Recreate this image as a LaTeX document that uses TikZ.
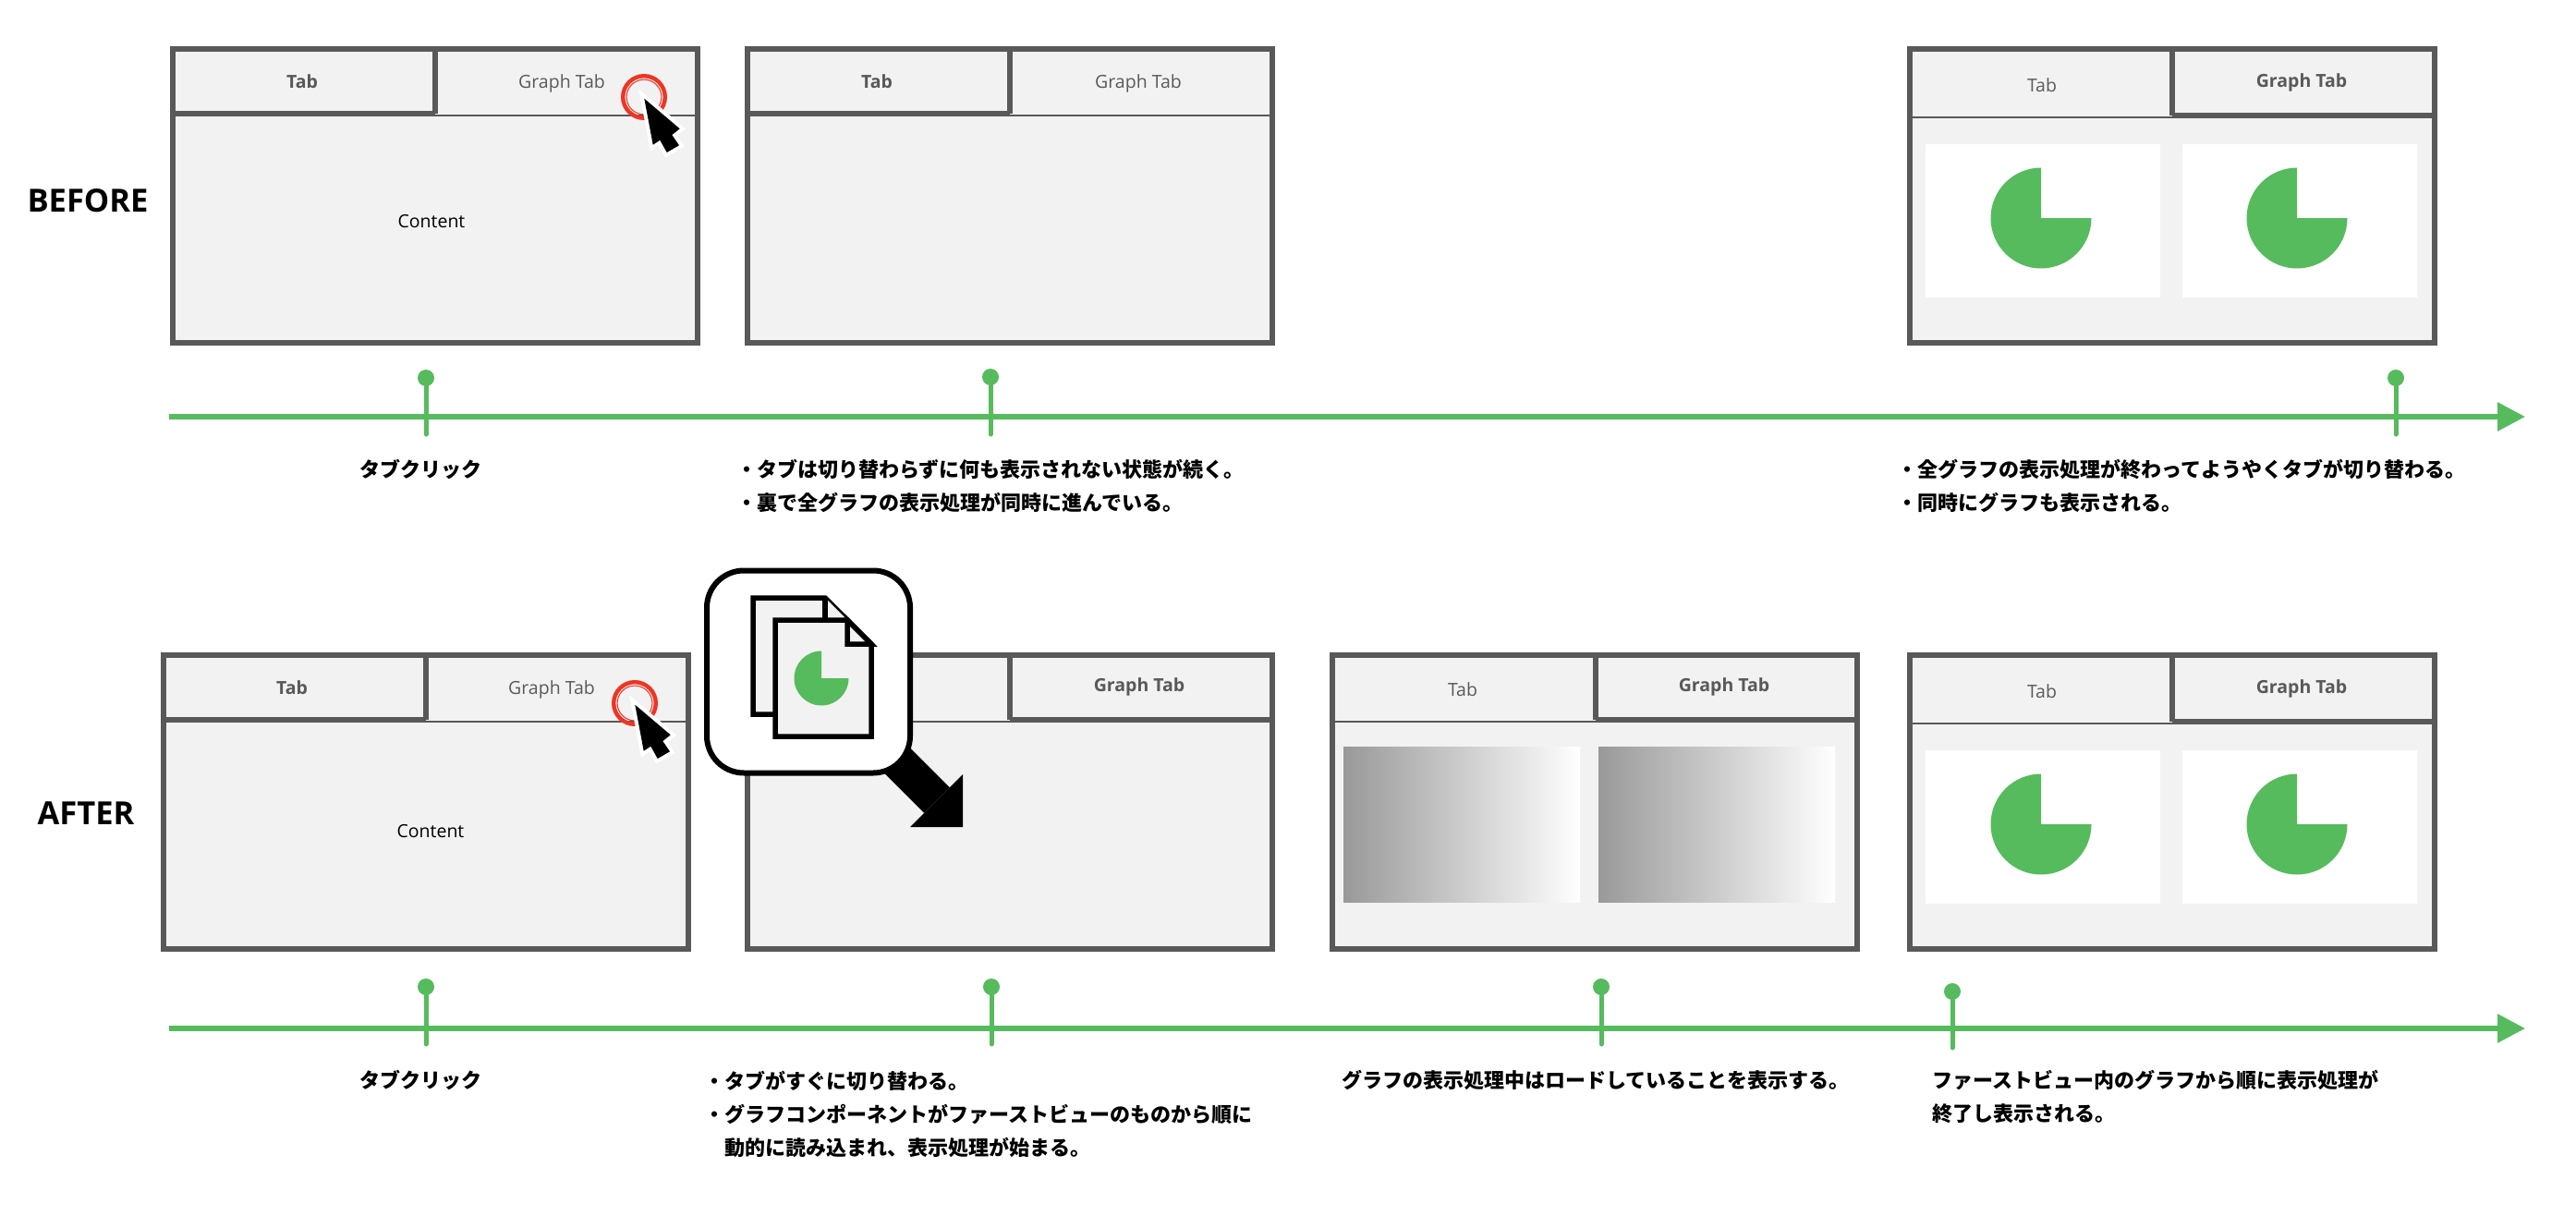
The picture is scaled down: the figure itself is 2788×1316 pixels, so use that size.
\documentclass[tikz,border=0pt]{standalone}
\usepackage{fontspec}
\setmainfont{Open Sans}
\newfontfamily\jpfont{Noto Sans CJK JP}
\usetikzlibrary{arrows, arrows.meta}
\definecolor{framegray}{HTML}{595959}
\definecolor{panelgray}{HTML}{F2F2F2}
\definecolor{timegreen}{HTML}{56BB5D}
\definecolor{ringred}{HTML}{EE3524}
\tikzset{
  frame/.style={rectangle, draw=framegray, fill=panelgray, line width=6pt, minimum width=568pt, minimum height=318pt, inner sep=0pt},
  thickrule/.style={draw=framegray, line width=6pt},
  thinrule/.style={draw=framegray, line width=2pt},
  tabon/.style={inner sep=0pt, yshift=-1pt, text=framegray, font=\fontsize{19.5}{22}\selectfont\bfseries},
  taboff/.style={inner sep=0pt, yshift=-1pt, text=framegray, font=\fontsize{19.5}{22}\selectfont},
  bodytext/.style={inner sep=0pt, font=\fontsize{19.5}{22}\selectfont},
  rowtitle/.style={inner sep=0pt, font=\fontsize{34.5}{40}\selectfont\bfseries},
  note/.style={inner sep=0pt, anchor=west, align=left, font=\jpfont\fontsize{22}{36}\selectfont\bfseries},
  whitepanel/.style={rectangle, fill=white, minimum width=254pt, minimum height=166pt, inner sep=0pt},
  gradpanel/.style={rectangle, left color=black!40, right color=white, minimum width=256pt, minimum height=168pt, inner sep=0pt},
  timeline/.style={draw=timegreen, line width=6pt, -{Triangle[length=30pt, width=30pt]}},
  stem/.style={draw=timegreen, line width=5pt, line cap=round},
  stemdot/.style={circle, fill=timegreen, inner sep=0pt, minimum size=18pt},
  docpage/.style={draw=black, fill=panelgray, line width=5.5pt, line join=miter},
  pics/pieslice/.style={code={
    \fill[timegreen] (0,0) -- (0,-#1) arc[start angle=90, delta angle=270, radius=#1 pt] -- cycle;
  }},
  pics/clickmark/.style={code={
    \draw[ringred, line width=4.4pt] (0,0) circle[radius=22.8pt];
    \draw[ringred, line width=1pt] (0,0) circle[radius=18.9pt];
    \filldraw[fill=black, draw=white, line width=8pt, line join=miter] (0.3,1.7) -- (38.7,34.3) -- (30.3,41) -- (38,52.3) -- (24.7,60) -- (17.3,46.7) -- (9.7,51.7) -- cycle;
    \fill[black] (0.3,1.7) -- (38.7,34.3) -- (30.3,41) -- (38,52.3) -- (24.7,60) -- (17.3,46.7) -- (9.7,51.7) -- cycle;
  }},
}
\begin{document}
\begin{tikzpicture}[x=1pt, y=-1pt]
  \useasboundingbox (0,0) rectangle (2788,1316);

  \node[rowtitle] (before) at (95, 217) {BEFORE};
  \node[rowtitle] (after) at (93, 880) {AFTER};

  \node[frame] (b1) at (471, 212) {};
  \draw[thickrule] (471, 50) -- (471, 123) (187, 123) -- (471, 123);
  \draw[thinrule] (471, 125) -- (755, 125);
  \node[tabon] (b1tab) at (327, 87) {Tab};
  \node[taboff] (b1graph) at (608, 89) {Graph Tab};
  \node[bodytext] (b1body) at (467, 240) {Content};
  \pic at (697, 105) {clickmark};

  \node[frame] (b2) at (1093, 212) {};
  \draw[thickrule] (1093, 50) -- (1093, 123) (809, 123) -- (1093, 123);
  \draw[thinrule] (1093, 125) -- (1377, 125);
  \node[tabon] (b2tab) at (949, 87) {Tab};
  \node[taboff] (b2graph) at (1232, 89) {Graph Tab};

  \node[frame] (b3) at (2351, 212) {};
  \draw[thickrule] (2351, 50) -- (2351, 125) (2351, 125) -- (2635, 125);
  \draw[thinrule] (2067, 127) -- (2351, 127);
  \node[taboff] (b3tab) at (2210, 91) {Tab};
  \node[tabon] (b3graph) at (2491, 88) {Graph Tab};
  \node[whitepanel] (b3left) at (2211, 239) {};
  \node[whitepanel] (b3right) at (2489, 239) {};
  \pic at (2209, 236) {pieslice=54.5};
  \pic at (2486, 236) {pieslice=54.5};

  \coordinate (bstart) at (183, 451);
  \coordinate (bend) at (2733, 451);
  \draw[timeline] (bstart) -- (bend);
  \node[stemdot] (bd1) at (461, 409) {};
  \node[stemdot] (bd2) at (1072, 408) {};
  \node[stemdot] (bd3) at (2593, 409) {};
  \coordinate (bt1) at (461, 470);
  \coordinate (bt2) at (1072, 470);
  \coordinate (bt3) at (2593, 470);
  \draw[stem] (bd1) -- (bt1);
  \draw[stem] (bd2) -- (bt2);
  \draw[stem] (bd3) -- (bt3);

  \node[note] (bn1) at (389, 508) {タブクリック};
  \node[note] (bn2) at (797, 526) {・タブは切り替わらずに何も表示されない状態が続く。\\・裏で全グラフの表示処理が同時に進んでいる。};
  \node[note] (bn3) at (2053, 526) {・全グラフの表示処理が終わってようやくタブが切り替わる。\\・同時にグラフも表示される。};

  \node[frame] (a1) at (461, 868) {};
  \draw[thickrule] (461, 706) -- (461, 779) (177, 779) -- (461, 779);
  \draw[thinrule] (461, 781) -- (745, 781);
  \node[tabon] (a1tab) at (316, 743) {Tab};
  \node[taboff] (a1graph) at (597, 745) {Graph Tab};
  \node[bodytext] (a1body) at (466, 900) {Content};
  \pic at (687, 761) {clickmark};

  \node[frame] (a2) at (1093, 868) {};
  \draw[thickrule] (1093, 706) -- (1093, 779) (1093, 779) -- (1377, 779);
  \draw[thinrule] (809, 781) -- (1093, 781);
  \node[tabon] (a2graph) at (1233, 742) {Graph Tab};

  \node[frame] (a3) at (1726, 868) {};
  \draw[thickrule] (1727, 706) -- (1727, 779) (1727, 779) -- (2009, 779);
  \draw[thinrule] (1443, 781) -- (1727, 781);
  \node[taboff] (a3tab) at (1583, 745) {Tab};
  \node[tabon] (a3graph) at (1866, 742) {Graph Tab};
  \node[gradpanel] (a3left) at (1582, 892) {};
  \node[gradpanel] (a3right) at (1858, 892) {};

  \node[frame] (a4) at (2351, 868) {};
  \draw[thickrule] (2351, 706) -- (2351, 781) (2351, 781) -- (2635, 781);
  \draw[thinrule] (2067, 783) -- (2351, 783);
  \node[taboff] (a4tab) at (2210, 747) {Tab};
  \node[tabon] (a4graph) at (2491, 744) {Graph Tab};
  \node[whitepanel] (a4left) at (2211, 895) {};
  \node[whitepanel] (a4right) at (2489, 895) {};
  \pic at (2209, 892) {pieslice=54.5};
  \pic at (2486, 892) {pieslice=54.5};

  \coordinate (popcenter) at (875, 727);
  \coordinate (pophead) at (1014, 866);
  \draw[line width=39pt] (popcenter) -- (pophead);
  \fill[black] (1042, 838) -- (1042, 895) -- (985, 895) -- cycle;
  \node[rectangle, draw=black, fill=white, line width=6pt, rounded corners=40pt, minimum width=220pt, minimum height=219pt] (popup) at (popcenter) {};
  \draw[docpage] (815, 647) -- (893, 647) -- (919, 673) -- (919, 773) -- (815, 773) -- cycle;
  \draw[docpage] (893, 647) -- (893, 673) -- (919, 673);
  \draw[docpage] (839, 671) -- (917, 671) -- (943, 697) -- (943, 797) -- (839, 797) -- cycle;
  \draw[docpage] (917, 671) -- (917, 697) -- (943, 697) -- cycle;
  \pic at (889, 734) {pieslice=29.5};

  \coordinate (astart) at (183, 1113);
  \coordinate (aend) at (2733, 1113);
  \draw[timeline] (astart) -- (aend);
  \node[stemdot] (ad1) at (461, 1068) {};
  \node[stemdot] (ad2) at (1073, 1068) {};
  \node[stemdot] (ad3) at (1733, 1068) {};
  \node[stemdot] (ad4) at (2113, 1073) {};
  \coordinate (at1) at (461, 1130);
  \coordinate (at2) at (1073, 1130);
  \coordinate (at3) at (1733, 1130);
  \coordinate (at4) at (2113, 1134);
  \draw[stem] (ad1) -- (at1);
  \draw[stem] (ad2) -- (at2);
  \draw[stem] (ad3) -- (at3);
  \draw[stem] (ad4) -- (at4);

  \node[note] (an1) at (389, 1169) {タブクリック};
  \node[note] (an2) at (762, 1206) {・タブがすぐに切り替わる。\\・グラフコンポーネントがファーストビューのものから順に\\\phantom{・}動的に読み込まれ、表示処理が始まる。};
  \node[note] (an3) at (1452, 1169) {グラフの表示処理中はロードしていることを表示する。};
  \node[note] (an4) at (2091, 1187) {ファーストビュー内のグラフから順に表示処理が\\終了し表示される。};
\end{tikzpicture}
\end{document}
